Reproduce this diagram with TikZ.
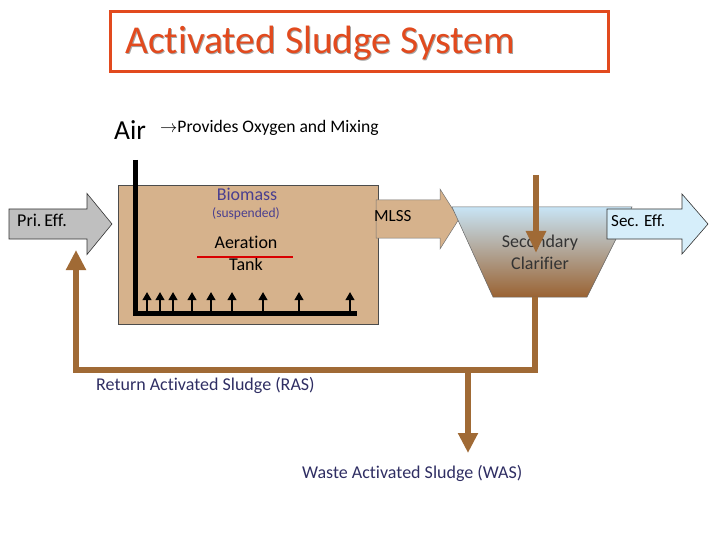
\documentclass[tikz,border=0pt]{standalone}
\usepackage{fontspec}
\setmainfont{Carlito}[Ligatures=NoCommon]
\usetikzlibrary{arrows.meta,positioning}
\definecolor{SludgeRed}{HTML}{E24A1E}
\definecolor{SludgeTan}{HTML}{D6B28C}
\definecolor{SludgeBrown}{HTML}{A06A35}
\definecolor{SludgeGrey}{HTML}{BFBFBF}
\definecolor{SludgeBlue}{HTML}{D6EEFA}
\definecolor{SludgeSky}{HTML}{C8E4F5}
\definecolor{SludgeMud}{HTML}{9A6333}
\definecolor{SludgeNavy}{HTML}{2F2E63}
\definecolor{SludgeViolet}{HTML}{4A3F8F}
% block arrow: style, tail x, head base x, tip x, centre y, shaft half, head half
\newcommand{\blockarrow}[7]{%
  \path[#1] (#2,{#5-#6}) -- (#3,{#5-#6}) -- (#3,{#5-#7}) -- (#4,#5)
    -- (#3,{#5+#7}) -- (#3,{#5+#6}) -- (#2,{#5+#6}) -- cycle;}

\begin{document}
\begin{tikzpicture}[x=1pt,y=-1pt]
    \tikzset{tankbox/.style={draw=black!70,fill=SludgeTan,line width=0.6pt,minimum width=260pt,minimum height=139pt,inner sep=0pt},
      lbl/.style={font=\fontsize{18}{22}\selectfont,inner sep=0pt},
      pipe/.style={SludgeBrown,line width=6pt},
      bubble/.style={-{Triangle[width=8.5pt,length=8pt]},line width=2.4pt}}
    \useasboundingbox (0,0) rectangle (720,540);
    % title
    \draw[SludgeRed,line width=3pt] (110,12) rectangle (608,72);
    \node[anchor=west,inner sep=0pt,text=black!35,font=\fontsize{39.5}{44}\selectfont] at (126,44) {Activated Sludge System};
    \node[anchor=west,inner sep=0pt,text=SludgeRed,font=\fontsize{39.5}{44}\selectfont] (title) at (125,43) {Activated Sludge System};
    \node[anchor=west,inner sep=0pt,font=\fontsize{27.5}{30}\selectfont] (air) at (114,130) {Air};
    \node[anchor=west,inner sep=0pt,font=\fontsize{17.6}{20}\selectfont] (role) at (160,128) {$\rightarrow$Provides Oxygen and Mixing};
    % aeration tank
    \node[tankbox] (tank) at (248,254.5) {};
    \blockarrow{fill=SludgeTan,draw=black!55,line width=0.5pt}{376}{440}{459}{219}{19}{30}
    \node[lbl,anchor=west,font=\fontsize{17}{20}\selectfont] (mlss) at (374,216) {MLSS};
    \node[lbl,text=SludgeViolet] (bio) at (247,194) {Biomass};
    \node[lbl,text=SludgeViolet,font=\fontsize{13.5}{16}\selectfont] (susp) at (246,214) {(suspended)};
    \node[lbl] (aer) at (246,242) {Aeration};
    \node[lbl] (tnk) at (246,264) {Tank};
    \draw[red!85!black,line width=2pt] (197,257) -- (293,257);
    % air header and diffusers
    \draw[line width=5pt] (135,160) -- (135,313) -- (357,313);
    \foreach \bx in {147,160,173,192,211,232,263,299,350}
      \draw[bubble] (\bx,313) -- (\bx,292);
    % primary effluent
    \blockarrow{fill=SludgeGrey,draw=black!80,line width=0.6pt}{9}{87}{112}{224}{15}{30.5}
    \node[lbl,anchor=west] (pri) at (17,220) {Pri.\,Eff.};
    % secondary clarifier
    \shade[top color=SludgeSky,middle color=black!30,bottom color=SludgeMud,draw=black!60,line width=0.5pt]
      (452,207) -- (632,207) -- (587,297) -- (493,297) -- cycle;
    \coordinate (clartop) at (536,175);
    \coordinate (clarbot) at (535,297);
    \node[lbl,text=black!80,align=center] (clar) at (540,252) {Secondary\\Clarifier};
    \draw[pipe,-{Triangle[width=19pt,length=22pt]}] (clartop) -- (536,253);
    \blockarrow{fill=SludgeBlue,draw=black!80,line width=0.6pt}{607}{682}{708}{224}{15}{30}
    \node[lbl,anchor=west,font=\fontsize{17}{20}\selectfont] (sec) at (611,221) {Sec. Eff.};
    % return and waste sludge
    \coordinate (rasleft) at (76,370);
    \coordinate (wasjoin) at (468,370);
    \coordinate (rasend) at (76,250);
    \coordinate (wasend) at (468,453);
    \draw[pipe,-{Triangle[width=19pt,length=20pt]}] (clarbot) |- (rasleft) -- (rasend);
    \draw[pipe,-{Triangle[width=19pt,length=20pt]}] (wasjoin) -- (wasend);
    \node[lbl,anchor=west,text=SludgeNavy] (ras) at (96,385) {Return Activated Sludge (RAS)};
    \node[lbl,anchor=west,text=SludgeNavy] (was) at (302,473) {Waste Activated Sludge (WAS)};
  \end{tikzpicture}
\end{document}
